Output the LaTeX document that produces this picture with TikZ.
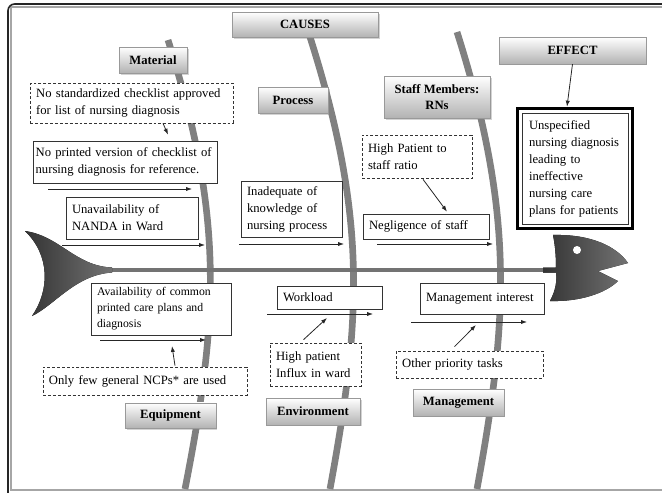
\documentclass[tikz,border=0pt]{standalone}
\usepackage{fontspec}
\setmainfont{Liberation Serif}
\usepackage{tikz}
\usetikzlibrary{arrows.meta}
\usetikzlibrary{shadows}
\usetikzlibrary{positioning}

\begin{document}
\begin{tikzpicture}[x=0.75pt,y=-0.75pt,
  every node/.style={font=\fontsize{9.5}{12.75}\selectfont},
  bone/.style={line width=5pt,black!50},
  spine/.style={line width=3.4pt,black!55},
  fish/.style={left color=black!80,right color=black!55},
  catbox/.style 2 args={draw=black!40,top color=white,bottom color=black!30,minimum width=#1,minimum height=#2,inner sep=1pt,align=center,font=\fontsize{9.5}{11.5}\selectfont\bfseries,drop shadow={opacity=0.35,shadow xshift=1.2pt,shadow yshift=-1.2pt}},
  causebox/.style 2 args={draw=black!80,line width=0.5pt,fill=white,text width=#1,minimum height=#2,inner xsep=4.5pt,inner ysep=1pt,align=left},
  rootbox/.style 2 args={causebox={#1}{#2},dash pattern=on 2.2pt off 1.5pt},
  flow/.style={-{Latex[length=4.5pt,width=3.2pt]},line width=0.6pt,black!85}]
  \useasboundingbox (0,0) rectangle (662,493);
  % frame
  \draw[black!35,line width=0.8pt] (11,7) rectangle (670,490);
  \draw[black!85,line width=1.2pt,rounded corners=5pt] (8,496) -- (8,4) -- (670,4);

  % bones and spine
  \draw[bone] (168,40) .. controls (225,220) and (218,320) .. (185,489);
  \draw[bone] (310,37) .. controls (368,220) and (361,320) .. (330,489);
  \draw[bone] (457,32) .. controls (515,215) and (508,320) .. (477,489);
  \coordinate (tailend) at (108,270);
  \coordinate (neck) at (545,270);
  \draw[spine] (tailend) -- (neck);

  % tail and head
  \fill[fish] (25,231) .. controls (60,236) and (75,266) .. (112,267.5) -- (112,272.5)
    .. controls (75,275) and (55,305) .. (32,316) .. controls (50,290) and (50,255) .. (25,231) -- cycle;
  \fill[fish] (543,267.5) -- (556,267.5) .. controls (556,255) and (555,245) .. (553,235)
    .. controls (592,234) and (617,247) .. (628,263) -- (598,271) -- (618,281)
    .. controls (606,293) and (580,302) .. (550,301) .. controls (556,290) and (557,280) .. (556,272.5)
    -- (543,272.5) -- cycle;
  \fill[white] (577,250) circle[radius=4];

  % categories
  \node[catbox={109.5pt}{18.75pt}] (causes) at (305,24.5) {CAUSES};
  \node[catbox={51pt}{19.5pt}] (material) at (153,60) {Material};
  \node[catbox={52.5pt}{19.5pt}] (process) at (293,100) {Process};
  \node[catbox={79.5pt}{31.5pt}] (staff) at (437,97) {Staff Members:\\RNs};
  \node[catbox={110pt}{20pt}] (effect) at (572.5,50.5) {EFFECT};
  \node[catbox={68pt}{19pt}] (equipment) at (170.5,415.5) {Equipment};
  \node[catbox={70.5pt}{20pt}] (environment) at (313,411.5) {Environment};
  \node[catbox={68pt}{20pt}] (management) at (458.5,402.5) {Management};

  % causes
  \node[causebox={134pt}{31.5pt},inner xsep=2pt] (printed) at (125,162) {No printed version of checklist of\\nursing diagnosis for reference.};
  \node[causebox={90pt}{31.5pt}] (nanda) at (132,218) {Unavailability of\\NANDA in Ward};
  \node[causebox={66.75pt}{42pt}] (knowledge) at (291.5,209) {Inadequate of\\knowledge of\\nursing process};
  \node[causebox={85.5pt}{18.75pt}] (negligence) at (426,226.5) {Negligence of staff};
  \node[causebox={96pt}{39pt},font=\fontsize{8.8}{12}\selectfont] (careplans) at (161,309) {Availability of common\\printed care plans and\\diagnosis};
  \node[causebox={69.75pt}{17.25pt}] (workload) at (329.5,297.5) {Workload};
  \node[causebox={84pt}{23.25pt}] (interest) at (482,298.5) {Management interest};
  \node[causebox={69pt}{83.25pt},inner xsep=5.25pt] (result) at (575,168.5) {Unspecified\\nursing diagnosis\\leading to\\ineffective\\nursing care\\plans for patients};
  \draw[line width=2.4pt] ([shift={(-4,-4)}]result.north west) rectangle ([shift={(4,4)}]result.south east);

  % root causes
  \node[rootbox={143pt}{30pt}] (nostd) at (131.5,103) {No standardized checklist approved\\for list of nursing diagnosis};
  \node[rootbox={73.5pt}{32.25pt}] (ratio) at (417,156.5) {High Patient to\\staff ratio};
  \node[rootbox={144pt}{21pt}] (fewncp) at (145,381) {Only few general NCPs* are used};
  \node[rootbox={59.25pt}{32.25pt}] (influx) at (315.5,364.5) {High patient\\Influx in ward};
  \node[rootbox={101pt}{20.25pt}] (othertask) at (469.5,364.5) {Other priority tasks};

  % arrows to the bones
  \foreach \n/\xa/\xb/\y in {p/48/192/189,n/62/205/245,k/239/344/244,s/377/493/244,c/100/206/340,w/267/373/314,m/411/527/322}{
    \coordinate (\n0) at (\xa,\y);
    \coordinate (\n1) at (\xb,\y);
    \draw[flow] (\n0) -- (\n1);
  }
  \draw[flow] ([shift={(31.5,0)}]nostd.south) -- ([shift={(43,-6)}]printed.north);
  \draw[flow] ([shift={(6,1)}]ratio.south) -- ([shift={(21,-2)}]negligence.north);
  \draw[flow] ([shift={(30,-1)}]fewncp.north) -- ([shift={(-34,6)}]c1);
  \draw[flow] ([shift={(-12,-3)}]influx.north) -- ([shift={(-46,4)}]w1);
  \draw[flow] ([shift={(-15,-4)}]othertask.north) -- ([shift={(-51,3)}]m1);
  \draw[flow] (effect.south) -- ([shift={(-8,-6)}]result.north);
\end{tikzpicture}
\end{document}
